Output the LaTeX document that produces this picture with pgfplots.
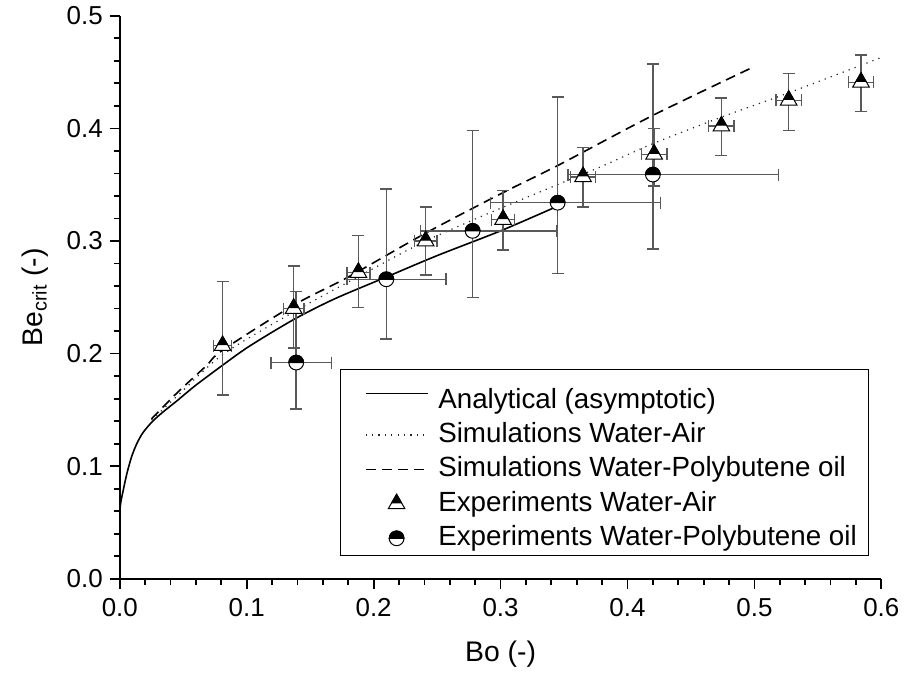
\documentclass[border=0pt]{standalone}
\usepackage{pgfplots}
\pgfplotsset{compat=1.18}
\usepackage{pgfplotstable}
\usepackage{fontspec}
\setmainfont{Liberation Sans}

% upper half black, lower half white
\pgfdeclareplotmark{halftri}{%
  \pgfpathmoveto{\pgfqpoint{0pt}{\pgfplotmarksize}}%
  \pgfpathlineto{\pgfpointpolar{210}{\pgfplotmarksize}}%
  \pgfpathlineto{\pgfpointpolar{330}{\pgfplotmarksize}}%
  \pgfpathclose
  \pgfsetfillcolor{white}\pgfusepath{fill,stroke}%
  \pgfpathmoveto{\pgfqpoint{0pt}{\pgfplotmarksize}}%
  \pgfpathlineto{\pgfpoint{-0.52\pgfplotmarksize}{0.1\pgfplotmarksize}}%
  \pgfpathlineto{\pgfpoint{0.52\pgfplotmarksize}{0.1\pgfplotmarksize}}%
  \pgfpathclose
  \pgfsetfillcolor{black}\pgfusepath{fill,stroke}%
}
\pgfdeclareplotmark{halfcirc}{%
  \pgfpathcircle{\pgfpointorigin}{\pgfplotmarksize}%
  \pgfsetfillcolor{white}\pgfusepath{fill,stroke}%
  \pgfpathmoveto{\pgfqpoint{\pgfplotmarksize}{0pt}}%
  \pgfpatharc{0}{180}{\pgfplotmarksize}%
  \pgfpathclose
  \pgfsetfillcolor{black}\pgfusepath{fill,stroke}%
}

\pgfplotsset{
  lineleg/.style={legend image code/.code={\path (-6pt,0pt); \draw[##1] (0pt,0pt) -- (31pt,0pt);}},
  markleg/.style={legend image code/.code={\path (-6pt,0pt); \draw[mark repeat=2, mark phase=2, ##1] plot coordinates {(0pt,0pt)(15.5pt,0pt)(31pt,0pt)};}},
}

% x y ex+ ex- ey+ ey-
\pgfplotstableread{
x     y     exp    exm    eyp    eym
0.081 0.207 0.007  0.007  0.057  0.044
0.137 0.240 0.008  0.008  0.038  0.035
0.188 0.272 0.009  0.009  0.033  0.031
0.241 0.300 0.009  0.009  0.030  0.030
0.302 0.319 0.009  0.009  0.026  0.027
0.365 0.357 0.010  0.010  0.026  0.027
0.421 0.377 0.010  0.010  0.023  0.028
0.474 0.402 0.010  0.010  0.025  0.026
0.527 0.425 0.010  0.010  0.024  0.027
0.584 0.441 0.010  0.010  0.024  0.026
}\expair

\pgfplotstableread{
x     y     exp    exm    eyp    eym
0.139 0.192 0.028  0.020  0.063  0.041
0.210 0.266 0.047  0.031  0.080  0.053
0.278 0.309 0.066  0.041  0.089  0.059
0.345 0.334 0.081  0.053  0.094  0.063
0.420 0.359 0.099  0.067  0.098  0.066
}\exoil

\begin{document}
\begin{tikzpicture}
\begin{axis}[
  scale only axis,
  width=381.5pt, height=282pt,
  xmin=0, xmax=0.6, ymin=0, ymax=0.5,
  axis x line=bottom, axis y line=left,
  axis line style={-, line width=1.1pt},
  clip=false,
  xtick={0,0.1,...,0.6}, ytick={0,0.1,...,0.5},
  minor tick num=4,
  tick align=outside,
  major tick length=5pt, minor tick length=3pt,
  every tick/.style={black, line width=0.9pt},
  /pgf/number format/assume math mode=true,
  /pgf/number format/.cd, fixed, fixed zerofill, precision=1, /pgfplots/.cd,
  tick label style={font=\fontsize{13}{15}\selectfont},
  xticklabel style={yshift=-1.5pt},
  label style={font=\fontsize{14.2}{17}\selectfont},
  xlabel={Bo (-)},
  xlabel style={yshift=-5pt},
  ylabel={Be\textsubscript{crit} (-)},
  ylabel style={yshift=2.5pt},
  legend cell align=left,
  lineleg,
  legend style={at={(0.2897,0.0408)}, anchor=south west,
    font=\fontsize{13.9}{16.7}\selectfont, draw=black, line width=0.5pt,
    inner xsep=6pt, inner ysep=1.75pt, row sep=3.75pt,
    nodes={inner sep=0pt, text height=10.5pt, text depth=3pt},
    /tikz/every odd column/.append style={column sep=5pt}},
  error bars/error bar style={black!65, line width=0.75pt},
  error bars/error mark options={black!65, rotate=90, mark size=3pt, line width=0.75pt},
]
\addplot[black, line width=0.8pt, smooth, tension=0.5] coordinates {
(0,0.060)(0.0008,0.068)(0.0026,0.078)(0.0055,0.093)(0.0092,0.108)
(0.0134,0.120)(0.0184,0.130)(0.026,0.140)(0.035,0.149)(0.045,0.158)
(0.06,0.172)(0.085,0.193)(0.1,0.205)(0.12,0.219)(0.1415,0.233)
(0.17,0.249)(0.21,0.268)(0.25,0.287)(0.3,0.309)(0.345,0.331)};
\addlegendentry[text height=17.5pt]{Analytical (asymptotic)}
\addplot[black!85, line width=0.6pt, dash pattern=on 0.6pt off 2.6pt, smooth, tension=0.5] coordinates {
(0.025,0.141)(0.045,0.162)(0.081,0.199)(0.137,0.237)(0.189,0.269)
(0.241,0.300)(0.302,0.330)(0.377,0.365)(0.419,0.386)(0.474,0.410)
(0.528,0.432)(0.6,0.463)};
\addlegendentry{Simulations Water-Air}
\addplot[black, line width=0.8pt, dash pattern=on 5pt off 3pt, smooth, tension=0.5] coordinates {
(0.025,0.142)(0.045,0.165)(0.068,0.189)(0.081,0.203)(0.137,0.243)
(0.18,0.268)(0.241,0.307)(0.302,0.343)(0.345,0.367)(0.419,0.411)
(0.5,0.455)};
\addlegendentry{Simulations Water-Polybutene oil}
\addplot[only marks, mark=halftri, mark size=4.8pt, mark options={black, line width=0.5pt},
  markleg,
  error bars/.cd, x dir=both, x explicit, y dir=both, y explicit]
  table[x=x, y=y, x error plus=exp, x error minus=exm, y error plus=eyp, y error minus=eym] {\expair};
\addlegendentry{Experiments Water-Air}
\addplot[only marks, mark=halfcirc, mark size=3.7pt, mark options={black, line width=0.5pt},
  markleg,
  error bars/.cd, x dir=both, x explicit, y dir=both, y explicit]
  table[x=x, y=y, x error plus=exp, x error minus=exm, y error plus=eyp, y error minus=eym] {\exoil};
\addlegendentry{Experiments Water-Polybutene oil}
\path (rel axis cs:-0.1573,-0.172) rectangle (rel axis cs:1.0301,1.0195);
\end{axis}
\end{tikzpicture}
\end{document}
